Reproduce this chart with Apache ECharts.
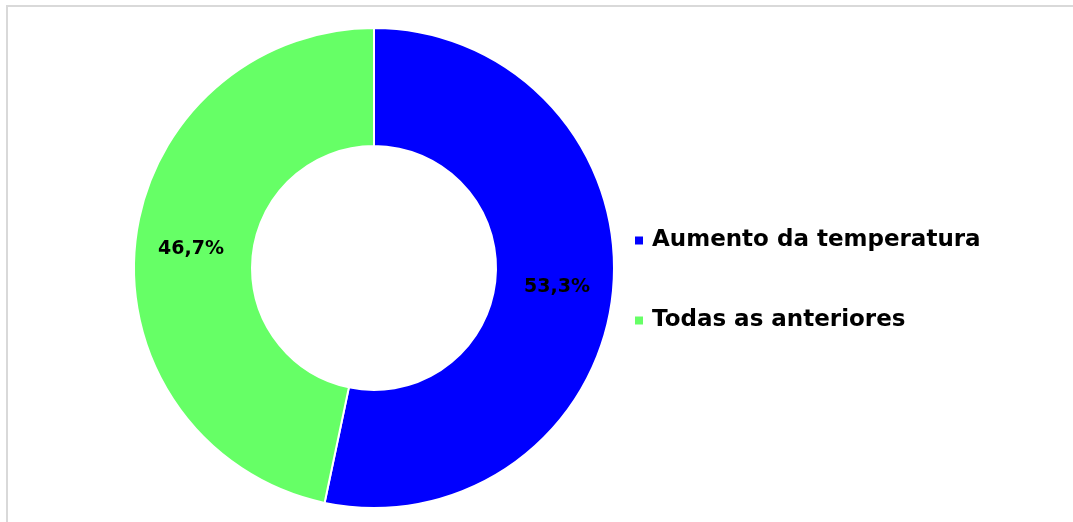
<!DOCTYPE html>
<html>
<head>
<meta charset="utf-8">
<script src="https://cdn.jsdelivr.net/npm/echarts@6/dist/echarts.min.js"></script>
<style>
  html, body { margin: 0; padding: 0; background: #fff; }
  #chart { width: 1073px; height: 522px; }
</style>
</head>
<body>
<div id="chart"></div>
<script>
const categories = ["Aumento da temperatura", "Todas as anteriores"];
const percents = [53.3, 46.7];
const colors = ["#0000ff", "#66ff66"];

const chart = echarts.init(document.getElementById("chart"));
const fontFamily = "'DejaVu Sans', sans-serif";

chart.setOption({
  animation: false,
  graphic: [
    {
      type: "rect",
      shape: { x: 7, y: 6, width: 1100, height: 540 },
      style: { fill: "none", stroke: "#d9d9d9", lineWidth: 2 },
      silent: true,
    },
  ],
  legend: {
    orient: "vertical",
    left: 628,
    top: 224,
    itemWidth: 10,
    itemHeight: 10,
    itemGap: 57,
    icon: "rect",
    textStyle: {
      fontFamily: fontFamily,
      fontSize: 23,
      fontWeight: "bold",
      color: "#000",
      padding: [0, 0, 0, 3],
    },
    data: categories,
  },
  series: [
    {
      type: "pie",
      center: [374, 268],
      radius: [122, 240],
      startAngle: 90,
      clockwise: true,
      itemStyle: { borderColor: "#fff", borderWidth: 2 },
      label: {
        show: true,
        position: "inside",
        formatter: (p) => p.value.toFixed(1).replace(".", ",") + "%",
        fontFamily: fontFamily,
        fontSize: 19,
        fontWeight: "bold",
        color: "#000",
      },
      labelLine: { show: false },
      emphasis: { disabled: true },
      data: categories.map((name, i) => ({
        name: name,
        value: percents[i],
        itemStyle: { color: colors[i] },
      })),
    },
  ],
});
</script>
</body>
</html>
